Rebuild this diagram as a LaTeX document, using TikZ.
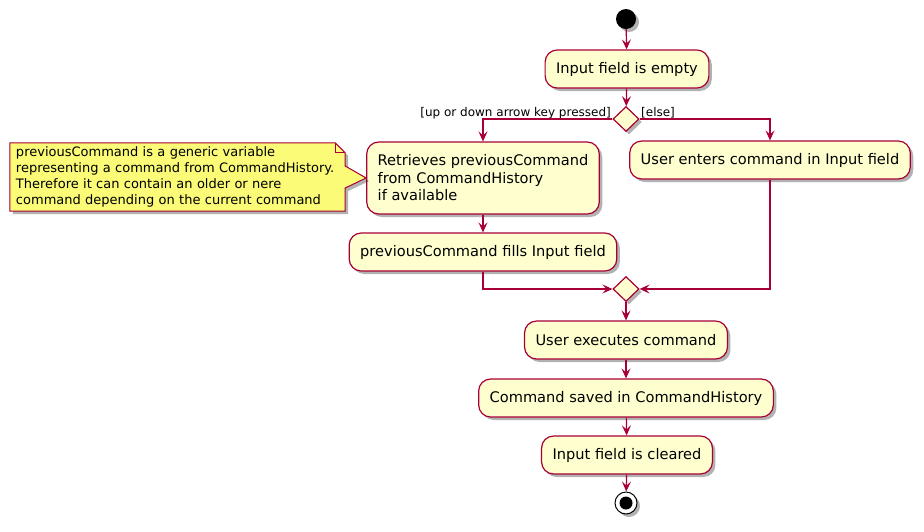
\documentclass[tikz,border=0pt]{standalone}
\usepackage{fontspec}
\setmainfont{DejaVu Sans}
\usetikzlibrary{positioning, shapes.geometric, arrows.meta, shadows}
\definecolor{umlred}{HTML}{A80036}
\definecolor{umlfill}{HTML}{FEFECE}
\definecolor{notefill}{HTML}{FBFB77}

\begin{document}
\begin{tikzpicture}[x=1pt, y=-1pt,
    umlshadow/.style = {drop shadow={shadow xshift=3pt, shadow yshift=-3pt, opacity=0.3, fill=black}},
    act/.style = {draw=umlred, fill=umlfill, line width=1.2pt, rounded corners=12pt,
        inner xsep=11pt, minimum height=38pt, font=\fontsize{14.6}{17.5}\selectfont, umlshadow},
    branch/.style = {diamond, draw=umlred, fill=umlfill, line width=1.2pt, inner sep=0pt,
        minimum width=26pt, minimum height=25pt, umlshadow},
    startdot/.style = {circle, fill=black, minimum size=20pt, inner sep=0pt, umlshadow},
    stopdot/.style = {circle, draw=black, fill=white, line width=1pt, minimum size=22pt, inner sep=0pt, umlshadow,
        path picture={\fill[black] (path picture bounding box.center) circle (6.5pt);}},
    guard/.style = {font=\fontsize{12}{14}\selectfont, inner sep=0pt},
    notetext/.style = {font=\fontsize{13}{16}\selectfont, align=left, inner xsep=6pt,
        minimum width=335pt, minimum height=68pt, text width=323pt},
    flow/.style = {draw=umlred, line width=1.2pt, -{Stealth[length=10pt, width=9pt, inset=4pt]}}]

    \useasboundingbox (0,0) rectangle (924,531);
    \fill[white] (0,0) rectangle (924,531);

    \node[startdot] at (626, 19) (start) {};
    \node[act] at (627, 69) (empty) {Input field is empty};
    \node[branch] at (626, 119) (split) {};
    \node[guard, anchor=base east] at (611, 116) (guardup) {[up or down arrow key pressed]};
    \node[guard, anchor=base west] at (641, 116) (guardelse) {[else]};
    \node[act, align=left, minimum height=72pt] at (483, 178) (retr) {Retrieves previousCommand\\from CommandHistory\\if available};
    \node[act] at (770, 160) (enters) {User enters command in Input field};
    \node[act] at (483, 252) (fills) {previousCommand fills Input field};
    \node[branch] at (626, 289) (merge) {};
    \node[act] at (626, 340) (exec) {User executes command};
    \node[act] at (626, 398) (saved) {Command saved in CommandHistory};
    \node[act] at (627, 455) (cleared) {Input field is cleared};
    \node[stopdot] at (626, 503) (stop) {};

    % note with folded corner and pointer
    \node[notetext] at (177.5, 177) (note) {};
    \path[draw=umlred, fill=notefill, line width=1pt, umlshadow]
        (note.north west) -- ([xshift=-10pt]note.north east) -- ([yshift=-10pt]note.north east)
        -- ([yshift=11pt]note.east) -- (retr.west) -- ([yshift=-11pt]note.east)
        -- (note.south east) -- (note.south west) -- cycle;
    \draw[umlred, line width=1pt] ([xshift=-10pt]note.north east) -- ([xshift=-10pt, yshift=-10pt]note.north east)
        -- ([yshift=-10pt]note.north east);
    \node[notetext] at (note.center) (notebody) {previousCommand is a generic variable\\representing a command from CommandHistory.\\Therefore it can contain an older or nere\\command depending on the current command};

    \draw[flow] (start) -- (empty);
    \draw[flow] (empty) -- (split);
    \draw[flow] (split.west) -| (retr.north);
    \draw[flow] (split.east) -| (enters.north);
    \draw[flow] (retr) -- (fills);
    \draw[flow] (fills.south) |- (merge.west);
    \draw[flow] (enters.south) |- (merge.east);
    \draw[flow] (merge) -- (exec);
    \draw[flow] (exec) -- (saved);
    \draw[flow] (saved) -- (cleared);
    \draw[flow] (cleared) -- (stop);
\end{tikzpicture}
\end{document}
